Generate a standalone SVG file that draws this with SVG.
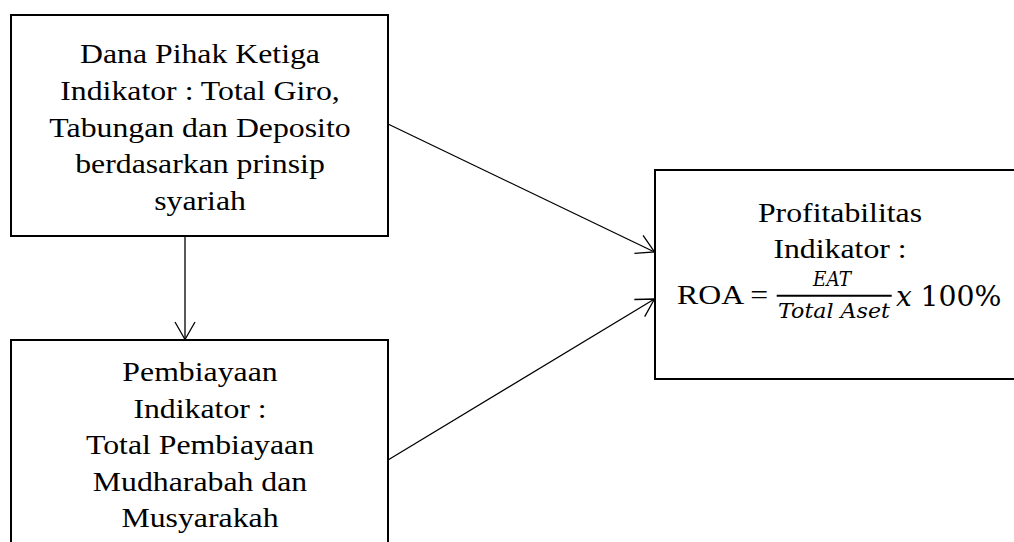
<svg xmlns="http://www.w3.org/2000/svg" width="1014" height="542" viewBox="0 0 1014 542">
<style>
.box{fill:#fff;stroke:#000;stroke-width:2}
.t{font-family:"Liberation Serif","Times New Roman",serif;font-size:28px;fill:#000;text-anchor:middle}
.conn line{stroke:#000;stroke-width:1.3;fill:none}
.m{font-family:"DejaVu Serif",serif;fill:#000}
</style>
<defs>
<marker id="arr" markerUnits="userSpaceOnUse" markerWidth="30" markerHeight="30" viewBox="-20 -15 30 30" refX="0" refY="0" orient="auto" overflow="visible">
<path d="M -17.5 -10 L 0 0 L -17.5 10" fill="none" stroke="#000" stroke-width="1.3"/>
</marker>
</defs>
<rect width="1014" height="542" fill="#fff"/>
<g id="node-dpk">
<rect class="box" x="11" y="15" width="377" height="221"/>
<g transform="translate(200,0) scale(1.135,1)">
<text class="t" x="0" y="63.3">Dana Pihak Ketiga</text>
<text class="t" x="0" y="100">Indikator : Total Giro,</text>
<text class="t" x="0" y="136.7">Tabungan dan Deposito</text>
<text class="t" x="0" y="173.3">berdasarkan prinsip</text>
<text class="t" x="0" y="210">syariah</text>
</g>
</g>
<g id="node-pembiayaan">
<rect class="box" x="11" y="340" width="377" height="230"/>
<g transform="translate(200,0) scale(1.135,1)">
<text class="t" x="0" y="381.5">Pembiayaan</text>
<text class="t" x="0" y="418">Indikator :</text>
<text class="t" x="0" y="454.5">Total Pembiayaan</text>
<text class="t" x="0" y="491">Mudharabah dan</text>
<text class="t" x="0" y="527.5">Musyarakah</text>
</g>
</g>
<g id="node-profit">
<rect class="box" x="655" y="170" width="400" height="209"/>
<g transform="translate(840,0) scale(1.135,1)">
<text class="t" x="0" y="221.7">Profitabilitas</text>
<text class="t" x="0" y="258.3">Indikator :</text>
</g>
<g transform="translate(677,0) scale(1.135,1)">
<text class="t" x="0" y="304.5" style="text-anchor:start">ROA =</text>
</g>
<text class="m" x="813" y="286" font-size="19.5" font-style="italic" textLength="38" lengthAdjust="spacingAndGlyphs">EAT</text>
<line x1="776.7" y1="295.7" x2="891.7" y2="295.7" stroke="#000" stroke-width="2"/>
<text class="m" x="778" y="317.5" font-size="19.5" font-style="italic" textLength="112" lengthAdjust="spacingAndGlyphs">Total Aset</text>
<text class="m" x="896" y="306" font-size="28" font-style="italic">x</text>
<text class="m" x="920.5" y="306" font-size="28" textLength="81" lengthAdjust="spacingAndGlyphs">100%</text>
</g>
<g id="connectors" class="conn">
<line x1="185" y1="236" x2="185" y2="339.5" marker-end="url(#arr)"/>
<line x1="388" y1="124" x2="654.5" y2="252" marker-end="url(#arr)"/>
<line x1="388" y1="460" x2="654.5" y2="299" marker-end="url(#arr)"/>
</g>
</svg>
